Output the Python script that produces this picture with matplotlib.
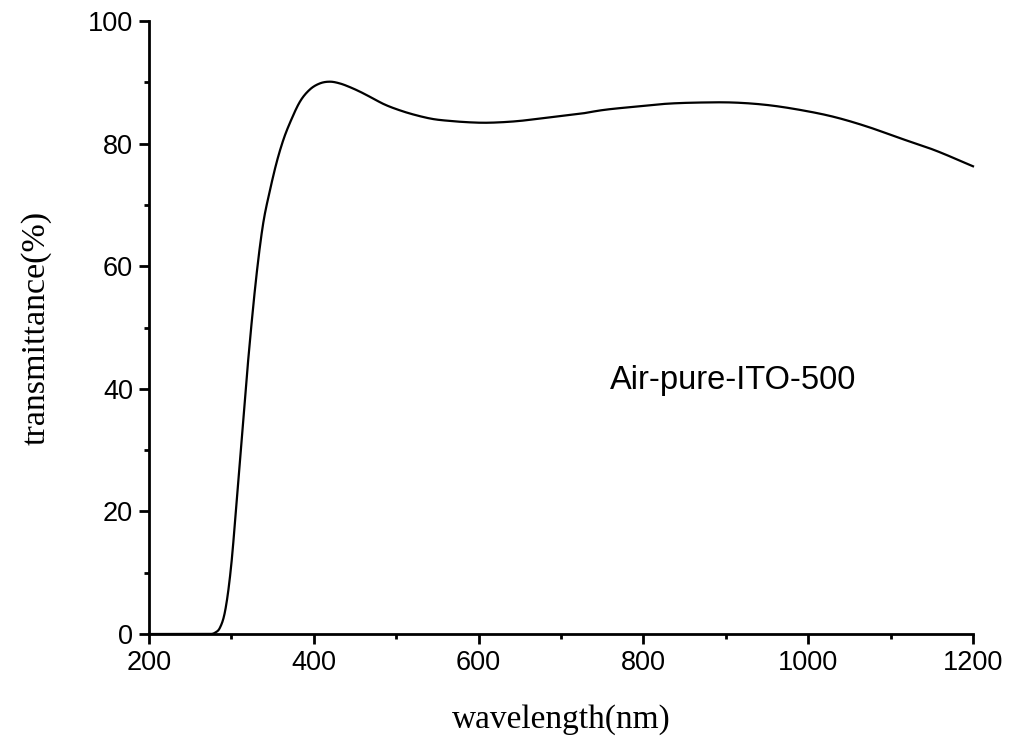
import numpy as np
import matplotlib
matplotlib.use("Agg")
import matplotlib.pyplot as plt
from matplotlib.ticker import MultipleLocator

# Transmittance spectrum of the air-annealed pure ITO film (500)
wavelength = [200, 250, 272, 280, 286, 292, 300, 306, 312, 318, 324, 330, 338,
              347, 355, 363, 373, 383, 395, 407, 420, 432, 444, 454, 470, 484,
              505, 525, 545, 565, 585, 605, 630, 650, 675, 700, 725, 747, 788,
              828, 869, 909, 950, 990, 1030, 1071, 1111, 1152, 1200]
transmittance = [0.0, 0.0, 0.0, 0.2, 1.0, 3.5, 11.5, 21.0, 31.0, 41.0, 50.0, 58.0,
                 66.5, 72.5, 77.0, 80.6, 84.0, 86.8, 88.8, 89.8, 90.1, 89.8,
                 89.2, 88.6, 87.5, 86.5, 85.4, 84.6, 84.0, 83.7, 83.5, 83.4,
                 83.5, 83.7, 84.1, 84.5, 84.9, 85.4, 86.0, 86.5, 86.7, 86.7,
                 86.3, 85.5, 84.4, 82.8, 80.9, 79.0, 76.3]

x_ticks = [200, 400, 600, 800, 1000, 1200]
y_ticks = [0, 20, 40, 60, 80, 100]
sample_label = "Air-pure-ITO-500"

sans = ["Liberation Sans", "DejaVu Sans"]
serif = ["Liberation Serif", "DejaVu Serif"]

fig = plt.figure(figsize=(10.16, 7.42), dpi=100)
ax = fig.add_axes([149 / 1016, 1 - 634 / 742, (973 - 149) / 1016, (634 - 21) / 742])

# cubic Hermite through the samples, slopes from neighbouring secants
xs = np.asarray(wavelength, float)
ys = np.asarray(transmittance, float)
h = np.diff(xs)
d = np.diff(ys) / h
m = np.empty_like(ys)
m[1:-1] = (d[:-1] * h[1:] + d[1:] * h[:-1]) / (h[:-1] + h[1:])
m[0], m[-1] = d[0], d[-1]
m[(ys == 0)] = 0.0
xf = np.linspace(xs[0], xs[-1], 3000)
idx = np.clip(np.searchsorted(xs, xf) - 1, 0, len(xs) - 2)
t = (xf - xs[idx]) / h[idx]
h00 = 2 * t**3 - 3 * t**2 + 1
h10 = t**3 - 2 * t**2 + t
h01 = -2 * t**3 + 3 * t**2
h11 = t**3 - t**2
yf = h00 * ys[idx] + h10 * h[idx] * m[idx] + h01 * ys[idx + 1] + h11 * h[idx] * m[idx + 1]
yf = np.clip(yf, 0, None)

ax.plot(xf, yf, color="black", lw=1.6, clip_on=False)

ax.set_xlim(200, 1200)
ax.set_ylim(0, 100)
ax.set_xticks(x_ticks)
ax.set_yticks(y_ticks)
ax.xaxis.set_minor_locator(MultipleLocator(100))
ax.yaxis.set_minor_locator(MultipleLocator(10))

for s in ("top", "right"):
    ax.spines[s].set_visible(False)
for s in ("left", "bottom"):
    ax.spines[s].set_linewidth(2.0)

ax.tick_params(which="major", direction="out", length=7.5, width=2.0, pad=4)
ax.tick_params(which="minor", direction="out", length=3.5, width=2.0)
for lab in ax.get_xticklabels() + ax.get_yticklabels():
    lab.set_fontfamily(sans)
    lab.set_fontsize(19.5)

ax.set_xlabel("wavelength(nm)", fontfamily=serif, fontsize=24, labelpad=20)
ax.set_ylabel("transmittance(%)", fontfamily=serif, fontsize=24.5, labelpad=26)

ax.text(759, 41.4, sample_label, fontfamily=sans, fontsize=23.5, va="center", ha="left")

fig.savefig("out.png", dpi=100)
